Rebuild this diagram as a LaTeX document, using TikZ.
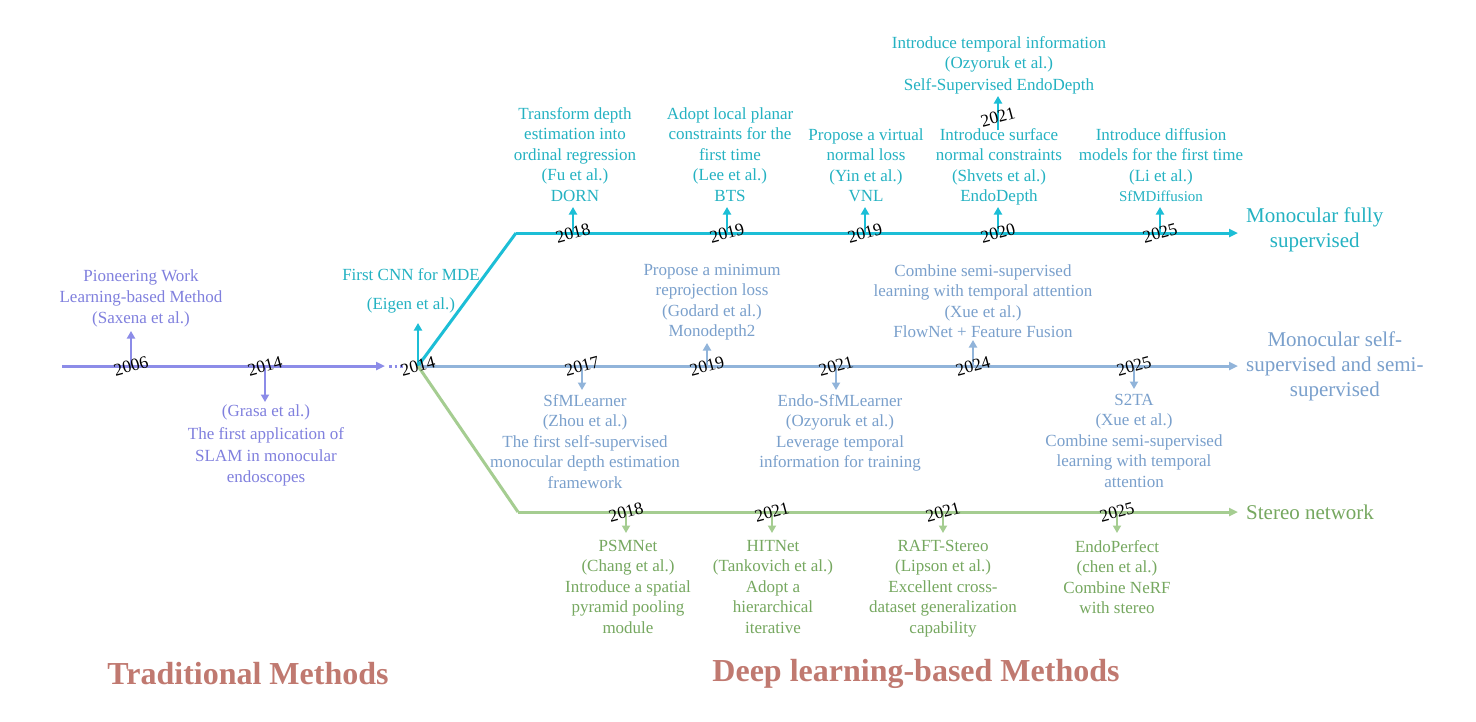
\documentclass[tikz,border=0pt]{standalone}
\usepackage{fontspec}
\setmainfont{Liberation Serif}
\usetikzlibrary{arrows.meta}
\definecolor{trad}{RGB}{140,140,232}
\definecolor{tradtxt}{RGB}{128,128,222}
\definecolor{cy}{RGB}{28,190,214}
\definecolor{cytxt}{RGB}{36,178,194}
\definecolor{st}{RGB}{145,180,218}
\definecolor{sttxt}{RGB}{122,160,204}
\definecolor{gr}{RGB}{165,205,145}
\definecolor{grtxt}{RGB}{118,168,96}
\definecolor{ttl}{RGB}{192,121,112}
\tikzset{
  desc/.style={font=\fontsize{17}{20.5}\selectfont, align=center, inner sep=0pt},
  yr/.style={font=\fontsize{17.5}{17.5}\selectfont, rotate=15, inner sep=0pt, text=black},
  mainln/.style={line width=3pt, -{Triangle[length=9pt,width=8pt]}},
  plainln/.style={line width=3pt},
  tk/.style={line width=2.7pt, -{Triangle[length=7.5pt,width=8pt]}},
  side/.style={font=\fontsize{21}{25}\selectfont, align=center, inner sep=0pt, anchor=west},
  ttlstyle/.style={font=\fontsize{32}{32}\selectfont\bfseries, text=ttl, inner sep=0pt}
}
\begin{document}
\begin{tikzpicture}[x=1pt,y=-1pt]
\useasboundingbox[fill=white] (0,0) rectangle (1476,721);

% ---------- coordinates ----------
\coordinate (tstart) at (62,366);
\coordinate (tend) at (385,366);
\coordinate (dots1) at (389,366);
\coordinate (dots2) at (405,366);
\coordinate (br) at (418,366);
\coordinate (cyk) at (516,233);
\coordinate (cyend) at (1238,233);
\coordinate (stend) at (1238,366);
\coordinate (grk) at (518,512);
\coordinate (grend) at (1238,512);

% traditional ticks
\coordinate (c2006) at (131,366); \coordinate (a2006) at (131,331);
\coordinate (c2014t) at (265,366); \coordinate (a2014t) at (265,402);
% cyan ticks
\coordinate (ceig) at (418,366); \coordinate (aeig) at (418,323);
\coordinate (cdorn) at (573,233); \coordinate (adorn) at (573,207);
\coordinate (cbts) at (727,233); \coordinate (abts) at (727,207);
\coordinate (cvnl) at (865,233); \coordinate (avnl) at (865,207);
\coordinate (cendo) at (998,233); \coordinate (aendo) at (998,207);
\coordinate (cssed) at (998,130); \coordinate (assed) at (998,96);
\coordinate (csfmd) at (1160,233); \coordinate (asfmd) at (1160,207);
% steel ticks
\coordinate (csfml) at (582,366); \coordinate (asfml) at (582,390);
\coordinate (cmd2) at (707,366); \coordinate (amd2) at (707,343);
\coordinate (cesfm) at (836,366); \coordinate (aesfm) at (836,390);
\coordinate (cflow) at (973,366); \coordinate (aflow) at (973,340);
\coordinate (cs2ta) at (1134,366); \coordinate (as2ta) at (1134,389);
% green ticks
\coordinate (cpsm) at (626,512); \coordinate (apsm) at (626,533);
\coordinate (chit) at (772,512); \coordinate (ahit) at (772,533);
\coordinate (craft) at (943,512); \coordinate (araft) at (943,533);
\coordinate (cperf) at (1117,512); \coordinate (aperf) at (1117,533);

% ---------- main lines ----------
\draw[mainln, trad] (tstart) -- (tend);
\draw[trad, line width=3pt, dash pattern=on 2.5pt off 3pt] (dots1) -- (dots2);
\draw[mainln, st] (br) -- (stend);
\draw[plainln, cy, line join=miter] (br) -- (cyk);
\draw[mainln, cy] (cyk) -- (cyend);
\draw[plainln, gr] (br) -- (grk);
\draw[mainln, gr] (grk) -- (grend);

% ---------- tick arrows ----------
\draw[tk, trad] (c2006) -- (a2006);
\draw[tk, trad] (c2014t) -- (a2014t);
\draw[tk, cy] (ceig) -- (aeig);
\draw[tk, cy] (cdorn) -- (adorn);
\draw[tk, cy] (cbts) -- (abts);
\draw[tk, cy] (cvnl) -- (avnl);
\draw[tk, cy] (cendo) -- (aendo);
\draw[tk, cy] (cssed) -- (assed);
\draw[tk, cy] (csfmd) -- (asfmd);
\draw[tk, st] (csfml) -- (asfml);
\draw[tk, st] (cmd2) -- (amd2);
\draw[tk, st] (cesfm) -- (aesfm);
\draw[tk, st] (cflow) -- (aflow);
\draw[tk, st] (cs2ta) -- (as2ta);
\draw[tk, gr] (cpsm) -- (apsm);
\draw[tk, gr] (chit) -- (ahit);
\draw[tk, gr] (craft) -- (araft);
\draw[tk, gr] (cperf) -- (aperf);

% ---------- year labels ----------
\node[yr] (y2006) at (c2006) {2006};
\node[yr] (y2014t) at (c2014t) {2014};
\node[yr] (y2014b) at (br) {2014};
\node[yr] (ydorn) at (cdorn) {2018};
\node[yr] (ybts) at (cbts) {2019};
\node[yr] (yvnl) at (cvnl) {2019};
\node[yr] (yendo) at (cendo) {2020};
\node[yr] (yssed) at (998,117) {2021};
\node[yr] (ysfmd) at (csfmd) {2025};
\node[yr] (ysfml) at (csfml) {2017};
\node[yr] (ymd2) at (cmd2) {2019};
\node[yr] (yesfm) at (cesfm) {2021};
\node[yr] (yflow) at (cflow) {2024};
\node[yr] (ys2ta) at (cs2ta) {2025};
\node[yr] (ypsm) at (cpsm) {2018};
\node[yr] (yhit) at (chit) {2021};
\node[yr] (yraft) at (craft) {2021};
\node[yr] (yperf) at (cperf) {2025};

% ---------- descriptions ----------
\node[desc, text=tradtxt, anchor=north, font=\fontsize{17}{21}\selectfont] (t2006) at (141,269)
  {Pioneering Work\\Learning-based Method\\(Saxena et al.)};
\node[desc, text=tradtxt, anchor=north, font=\fontsize{17}{21.5}\selectfont] (t2014) at (266,404)
  {(Grasa et al.)\\[2pt]The first application of\\SLAM in monocular\\endoscopes};

\node[desc, text=cytxt, anchor=north] (teig) at (411,268)
  {First CNN for MDE\\[9pt](Eigen et al.)};
\node[desc, text=cytxt, anchor=north] (tdorn) at (575,107)
  {Transform depth\\estimation into\\ordinal regression\\(Fu et al.)\\DORN};
\node[desc, text=cytxt, anchor=north] (tbts) at (730,107)
  {Adopt local planar\\constraints for the\\first time\\(Lee et al.)\\BTS};
\node[desc, text=cytxt, anchor=north] (tvnl) at (866,128)
  {Propose a virtual\\normal loss\\(Yin et al.)\\VNL};
\node[desc, text=cytxt, anchor=north] (tendo) at (999,128)
  {Introduce surface\\normal constraints\\(Shvets et al.)\\EndoDepth};
\node[desc, text=cytxt, anchor=north] (tssed) at (999,36)
  {Introduce temporal information\\(Ozyoruk et al.)\\[1pt]Self-Supervised EndoDepth};
\node[desc, text=cytxt, anchor=north] (tsfmd) at (1161,128)
  {Introduce diffusion\\models for the first time\\(Li et al.)\\{\fontsize{15}{15}\selectfont SfMDiffusion}};
\node[side, text=cytxt] (lcy) at (1246,229.5) {Monocular fully\\supervised};

\node[desc, text=sttxt, anchor=north] (tsfml) at (585,394)
  {SfMLearner\\(Zhou et al.)\\The first self-supervised\\monocular depth estimation\\framework};
\node[desc, text=sttxt, anchor=north] (tmd2) at (712,264)
  {Propose a minimum\\reprojection loss\\(Godard et al.)\\Monodepth2};
\node[desc, text=sttxt, anchor=north] (tesfm) at (840,394)
  {Endo-SfMLearner\\(Ozyoruk et al.)\\Leverage temporal\\information for training};
\node[desc, text=sttxt, anchor=north] (tflow) at (983,264)
  {Combine semi-supervised\\learning with temporal attention\\(Xue et al.)\\FlowNet + Feature Fusion};
\node[desc, text=sttxt, anchor=north] (ts2ta) at (1134,394)
  {S2TA\\(Xue et al.)\\Combine semi-supervised\\learning with temporal\\attention};
\node[side, text=sttxt] (lst) at (1246,366) {Monocular self-\\supervised and semi-\\supervised};

\node[desc, text=grtxt, anchor=north] (tpsm) at (628,540)
  {PSMNet\\(Chang et al.)\\Introduce a spatial\\pyramid pooling\\module};
\node[desc, text=grtxt, anchor=north] (thit) at (773,540)
  {HITNet\\(Tankovich et al.)\\Adopt a\\hierarchical\\iterative};
\node[desc, text=grtxt, anchor=north] (traft) at (943,540)
  {RAFT-Stereo\\(Lipson et al.)\\Excellent cross-\\dataset generalization\\capability};
\node[desc, text=grtxt, anchor=north] (tperf) at (1117,540)
  {EndoPerfect\\(chen et al.)\\Combine NeRF\\with stereo};
\node[side, text=grtxt] (lgr) at (1246,512) {Stereo network};

% ---------- titles ----------
\node[ttlstyle] (ttrad) at (248,674) {Traditional Methods};
\node[ttlstyle] (tdeep) at (916,674) {Deep learning-based Methods};
\end{tikzpicture}
\end{document}
